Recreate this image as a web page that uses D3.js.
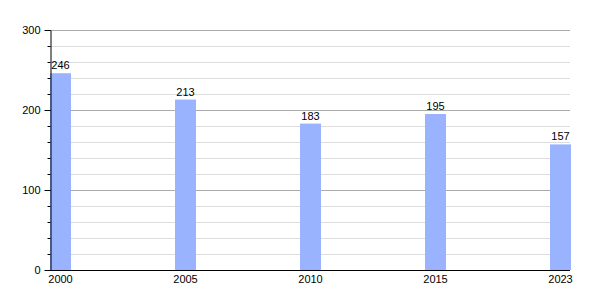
<!DOCTYPE html>
<html>
<head>
<meta charset="utf-8">
<script src="https://d3js.org/d3.v7.min.js"></script>
<style>
  body { margin: 0; background: #fff; }
  svg text { font-family: "Liberation Sans", Arial, sans-serif; font-size: 11px; fill: #000; }
</style>
</head>
<body>
<svg id="chart" width="600" height="300"></svg>
<script>
// chart values
var years = ["2000", "2005", "2010", "2015", "2023"];
var values = [246, 213, 183, 195, 157];
var majorTicks = [0, 100, 200, 300];
var minorTicks = d3.range(0, 301, 20);

var svg = d3.select("#chart");
var plotLeft = 50, plotRight = 571, plotTop = 30, plotBottom = 270;

var x = d3.scaleBand().domain(years).range([plotLeft, plotRight]).paddingInner(0.832).paddingOuter(0);
var y = d3.scaleLinear().domain([0, 300]).range([plotBottom, plotTop]);

// minor grid
svg.append("g").selectAll("line")
  .data(minorTicks.filter(function(d) { return d % 100 != 0; }))
  .enter().append("line")
  .attr("x1", plotLeft).attr("x2", plotRight - 1)
  .attr("y1", function(d) { return Math.round(y(d)) + 0.5; })
  .attr("y2", function(d) { return Math.round(y(d)) + 0.5; })
  .attr("stroke", "#dddddd");

// major grid
svg.append("g").selectAll("line")
  .data(majorTicks.filter(function(d) { return d > 0; }))
  .enter().append("line")
  .attr("x1", plotLeft).attr("x2", plotRight - 1)
  .attr("y1", function(d) { return Math.round(y(d)) + 0.5; })
  .attr("y2", function(d) { return Math.round(y(d)) + 0.5; })
  .attr("stroke", "#aaaaaa");

// bars
svg.append("g").selectAll("rect")
  .data(values)
  .enter().append("rect")
  .attr("x", function(d, i) { return x(years[i]); })
  .attr("width", x.bandwidth())
  .attr("y", function(d) { return y(d); })
  .attr("height", function(d) { return y(0) - y(d); })
  .attr("fill", "#99b3ff");

// value labels
svg.append("g").selectAll("text")
  .data(values)
  .enter().append("text")
  .attr("x", function(d, i) { return x(years[i]) + x.bandwidth() / 2; })
  .attr("y", function(d) { return y(d) - 4; })
  .attr("text-anchor", "middle")
  .text(function(d) { return d; });

// minor ticks on y axis
svg.append("g").attr("transform", "translate(" + (plotLeft + 0.5) + ",0)")
  .call(d3.axisLeft(y).tickValues(minorTicks).tickSize(3).tickFormat(""))
  .call(function(g) { g.select(".domain").remove(); })
  .selectAll("line").attr("stroke", "#000");

// y axis
var yAxis = svg.append("g").attr("transform", "translate(" + (plotLeft + 0.5) + ",0)")
  .call(d3.axisLeft(y).tickValues(majorTicks).tickSize(6).tickPadding(4).tickSizeOuter(0));
yAxis.selectAll("text").style("font-size", "11px").style("font-family", "Liberation Sans, Arial, sans-serif");

// x axis
var xAxis = svg.append("g").attr("transform", "translate(0," + (plotBottom + 0.5) + ")")
  .call(d3.axisBottom(x).tickSize(0).tickPadding(5).tickSizeOuter(0));
xAxis.select(".domain").attr("d", "M" + plotLeft + ",0H" + (plotRight - 1));
xAxis.selectAll("text").style("font-size", "11px").style("font-family", "Liberation Sans, Arial, sans-serif");
</script>
</body>
</html>
